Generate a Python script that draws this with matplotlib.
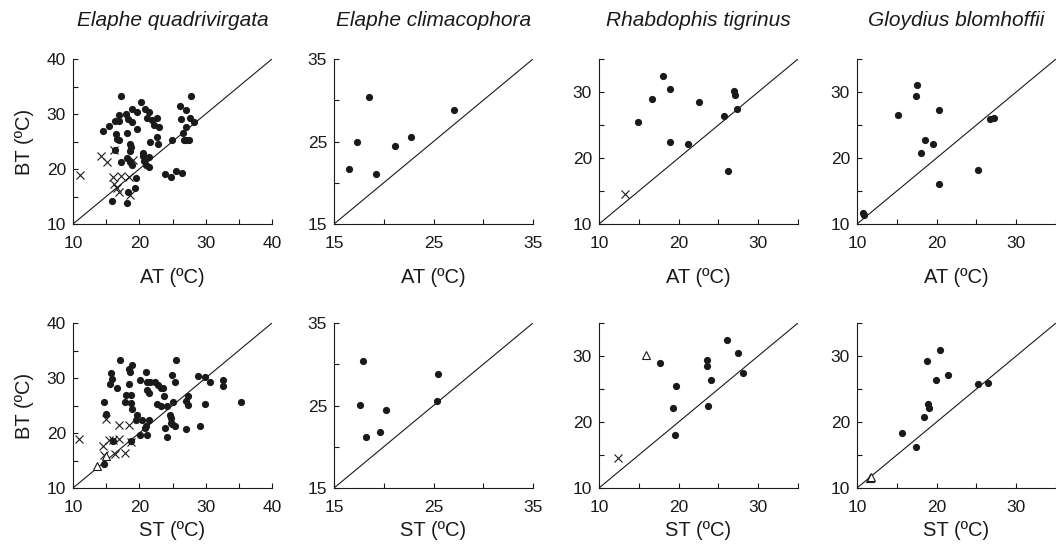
import matplotlib
matplotlib.use("Agg")
import matplotlib.pyplot as plt
import numpy as np

plt.rcParams["font.family"] = ["Liberation Sans", "DejaVu Sans"]

# ── Data (body temperature vs. air / substrate temperature) ───────────────────
SPECIES = ["Elaphe quadrivirgata", "Elaphe climacophora",
           "Rhabdophis tigrinus", "Gloydius blomhoffii"]

# Elaphe quadrivirgata
eq_at_dots = [
    (17.2, 33.2), (20.2, 32.2), (26.15, 31.5), (27.85, 33.2), (27.05, 30.75),
    (18.85, 30.9), (19.6, 30.3), (20.85, 30.9), (21.45, 30.4), (17.0, 29.8),
    (17.95, 29.95), (18.35, 29.05), (18.9, 28.5), (16.35, 28.8), (17.0, 28.8),
    (15.5, 27.9), (14.55, 26.9), (21.2, 29.2), (21.95, 28.95), (22.6, 29.25),
    (22.25, 28.0), (22.9, 27.6), (26.35, 29.1), (27.7, 29.3), (28.25, 28.6),
    (27.05, 27.7), (26.6, 26.6), (19.65, 27.25), (18.1, 26.6), (16.45, 26.4),
    (16.6, 25.4), (17.0, 25.2), (22.65, 25.85), (22.75, 24.6), (21.55, 24.95),
    (24.9, 25.3), (26.7, 25.2), (27.1, 25.25), (27.5, 25.3), (18.55, 24.5),
    (18.8, 24.0), (18.55, 23.3), (16.3, 23.5), (20.55, 23.0), (20.55, 22.4),
    (21.4, 22.15), (18.1, 22.0), (17.25, 21.2), (18.6, 21.25), (18.85, 20.7),
    (20.7, 21.5), (21.0, 20.8), (21.4, 20.4), (23.9, 19.1), (24.8, 18.5),
    (25.5, 19.7), (26.4, 19.3), (19.5, 18.4), (19.35, 16.6), (18.25, 15.9),
    (15.95, 14.2), (18.2, 13.9),
]
eq_at_cross = [
    (11.0, 19.0), (14.2, 22.4), (15.2, 21.3), (16.25, 23.5), (16.1, 18.6),
    (17.3, 18.7), (18.5, 18.5), (16.2, 17.3), (16.6, 16.5), (16.9, 15.8),
    (18.6, 15.2), (19.0, 21.7),
]
eq_st_dots = [
    (17.15, 33.3), (25.6, 33.3), (18.95, 32.35), (18.45, 31.55), (18.6, 31.1),
    (15.75, 30.85), (20.95, 31.1), (15.85, 29.9), (15.55, 29.0), (16.7, 28.1),
    (18.45, 29.0), (20.05, 29.6), (21.1, 29.3), (21.6, 29.3), (22.35, 29.35),
    (22.75, 28.75), (23.2, 28.1), (23.6, 28.1), (21.15, 27.85), (21.4, 27.35),
    (24.95, 30.55), (25.45, 29.3), (28.9, 30.35), (29.95, 30.2), (30.7, 29.35),
    (32.55, 29.65), (32.55, 28.6), (18.05, 27.0), (18.7, 26.85), (23.7, 26.75),
    (27.3, 26.75), (17.9, 25.55), (18.75, 25.4), (14.65, 25.6), (18.9, 24.35),
    (22.6, 25.35), (23.3, 24.9), (24.1, 24.9), (25.15, 25.55), (27.05, 25.9),
    (27.35, 25.05), (29.9, 25.25), (35.35, 25.55), (15.05, 23.5), (19.6, 23.3),
    (19.55, 22.35), (20.45, 22.35), (21.5, 22.35), (24.6, 23.25), (24.75, 22.65),
    (24.8, 21.8), (21.05, 21.2), (20.85, 20.85), (23.9, 20.9), (24.95, 21.6),
    (25.45, 21.25), (27.1, 20.7), (29.15, 21.3), (20.15, 19.6), (21.2, 19.6),
    (24.1, 19.35), (18.75, 18.6), (16.05, 18.6), (14.6, 14.4),
]
eq_st_cross = [
    (10.95, 19.0), (14.9, 22.5), (16.9, 21.5), (18.5, 21.5), (15.4, 18.7),
    (16.1, 18.7), (16.9, 18.9), (14.5, 17.6), (14.6, 16.0), (16.3, 16.2),
    (17.8, 16.3), (18.8, 18.3),
]
eq_st_tri = [(13.6, 14.0), (14.9, 15.9)]

# Elaphe climacophora
ec_at_dots = [(16.5, 21.7), (17.27, 25.0), (18.5, 30.4), (19.27, 21.1),
              (21.13, 24.4), (22.73, 25.55), (27.1, 28.8)]
ec_st_dots = [(17.87, 30.4), (17.6, 25.05), (18.2, 21.2), (19.6, 21.8),
              (20.23, 24.5), (25.5, 28.8), (25.4, 25.55)]

# Rhabdophis tigrinus
rt_at_dots = [(18.1, 32.45), (18.9, 30.45), (16.6, 28.95), (22.6, 28.45),
              (26.9, 30.15), (27.1, 29.55), (27.35, 27.35), (25.65, 26.4),
              (14.85, 25.5), (18.9, 22.45), (21.2, 22.05), (26.15, 18.0)]
rt_at_cross = [(13.25, 14.6)]
rt_st_dots = [(26.1, 32.5), (27.4, 30.5), (28.1, 27.35), (23.55, 29.45),
              (23.6, 28.5), (24.1, 26.35), (17.65, 29.0), (19.65, 25.5),
              (19.35, 22.1), (23.75, 22.5), (19.6, 18.0)]
rt_st_cross = [(12.35, 14.55)]
rt_st_tri = [(15.85, 30.15)]

# Gloydius blomhoffii
gb_at_dots = [(17.57, 31.06), (17.45, 29.4), (15.1, 26.5), (20.3, 27.2),
              (26.75, 25.85), (27.15, 26.1), (18.5, 22.75), (19.55, 22.1),
              (18.0, 20.8), (25.2, 18.25), (20.3, 16.1), (10.8, 11.7),
              (10.9, 11.3)]
gb_st_dots = [(20.4, 30.85), (18.8, 29.2), (21.4, 27.05), (19.95, 26.35),
              (25.25, 25.7), (26.4, 25.95), (18.9, 22.75), (19.0, 22.05),
              (18.4, 20.8), (15.6, 18.3), (17.35, 16.2)]
gb_st_tri = [(11.6, 11.5), (11.8, 11.7)]

# axis range (low, high) per species column
RANGES = [(10, 40), (15, 35), (10, 35), (10, 35)]

PANELS = [
    [(eq_at_dots, eq_at_cross, []), (ec_at_dots, [], []),
     (rt_at_dots, rt_at_cross, []), (gb_at_dots, [], [])],
    [(eq_st_dots, eq_st_cross, eq_st_tri), (ec_st_dots, [], []),
     (rt_st_dots, rt_st_cross, rt_st_tri), (gb_st_dots, [], gb_st_tri)],
]
XLABELS = ["AT (ºC)", "ST (ºC)"]

# ── Layout (pixels of a 1056 x 547 figure) ───────────────────────────────────
W, H = 1056, 547
LEFTS = [73, 334, 599, 857]
AX_W, AX_H = 199, 165
BOTTOMS = [224, 488]
XLABEL_PAD = [12, 4]
INK = "#1a1a1a"

fig = plt.figure(figsize=(W / 100, H / 100), dpi=100)

for r in range(2):
    for c in range(4):
        lo, hi = RANGES[c]
        ax = fig.add_axes([LEFTS[c] / W, 1 - BOTTOMS[r] / H, AX_W / W, AX_H / H])
        dots, crosses, tris = PANELS[r][c]

        ax.plot([lo, hi], [lo, hi], color=INK, lw=0.8, zorder=1)
        if dots:
            xs, ys = zip(*dots)
            ax.plot(xs, ys, "o", color=INK, ms=5.2, mec="none", zorder=3)
        if crosses:
            xs, ys = zip(*crosses)
            ax.plot(xs, ys, "x", color=INK, ms=6, mew=0.8, zorder=4)
        if tris:
            xs, ys = zip(*tris)
            ax.plot(xs, ys, "^", mfc="white", mec=INK, ms=5.5, mew=0.8,
                    zorder=4)

        ax.set_xlim(lo, hi)
        ax.set_ylim(lo, hi)
        for s in ("top", "right"):
            ax.spines[s].set_visible(False)
        for s in ("left", "bottom"):
            ax.spines[s].set_linewidth(0.8)
            ax.spines[s].set_color(INK)

        major = np.arange(lo, hi + 0.1, 10)
        minor = np.arange(lo, hi + 0.1, 5)
        ax.set_xticks(major)
        ax.set_yticks(major)
        ax.set_xticks(minor, minor=True)
        ax.set_yticks(minor, minor=True)
        ax.tick_params(which="both", direction="in", length=3.5, width=0.8,
                       color=INK, labelsize=12.5, labelcolor=INK)
        ax.tick_params(axis="x", pad=9)
        ax.tick_params(axis="y", pad=5)

        ax.set_xlabel(XLABELS[r], fontsize=14.5, color=INK,
                      labelpad=XLABEL_PAD[r])
        if c == 0:
            ax.set_ylabel("BT (ºC)", fontsize=14.5, color=INK, labelpad=9)
        if r == 0:
            fig.text((LEFTS[c] + AX_W / 2) / W, 1 - 20 / H, SPECIES[c],
                     ha="center", va="center", fontsize=15, style="italic",
                     color=INK)

fig.savefig("out.png", dpi=100, facecolor="white")
